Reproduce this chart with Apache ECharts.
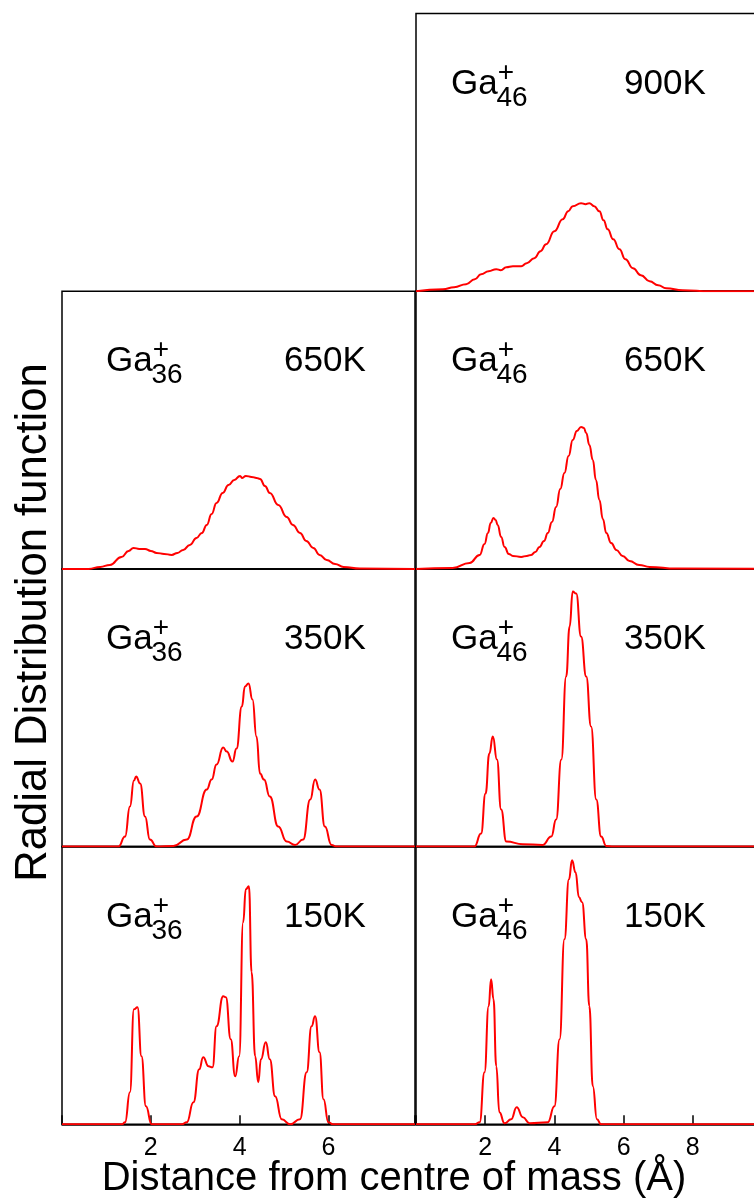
<!DOCTYPE html>
<html>
<head>
<meta charset="utf-8">
<script src="https://cdn.jsdelivr.net/npm/echarts@6/dist/echarts.min.js"></script>
<style>
  html, body { margin: 0; padding: 0; background: #fff; }
  #chart { width: 754px; height: 1198px; }
</style>
</head>
<body>
<div id="chart"></div>
<script>
// Radial distribution of atoms about the cluster centre of mass, [r (Å), g(r) arbitrary units]
const ga36_650K = [[0,0],[0.6,0],[0.86,0.02],[1.08,0.04],[1.34,0.12],[1.5,0.18],[1.61,0.21],[1.74,0.2],[1.87,0.2],[2.0,0.18],[2.13,0.16],[2.3,0.15],[2.47,0.14],[2.6,0.16],[2.73,0.19],[2.88,0.24],[3.03,0.31],[3.15,0.36],[3.26,0.44],[3.37,0.55],[3.48,0.66],[3.62,0.76],[3.75,0.84],[3.88,0.89],[4.01,0.93],[4.06,0.91],[4.14,0.93],[4.27,0.92],[4.38,0.91],[4.46,0.9],[4.57,0.83],[4.68,0.76],[4.87,0.64],[5.06,0.52],[5.2,0.44],[5.36,0.36],[5.5,0.28],[5.66,0.21],[5.8,0.14],[5.96,0.09],[6.15,0.05],[6.34,0.02],[6.71,0.003],[7.95,0]];
const ga36_350K = [[0,0],[1.27,0],[1.42,0.1],[1.53,0.4],[1.62,0.66],[1.67,0.7],[1.76,0.63],[1.87,0.3],[1.98,0.07],[2.13,0],[2.51,0.007],[2.81,0.07],[3.03,0.3],[3.26,0.57],[3.37,0.67],[3.48,0.82],[3.63,0.99],[3.71,0.95],[3.84,0.85],[3.93,0.98],[4.05,1.4],[4.12,1.6],[4.2,1.63],[4.29,1.47],[4.38,1.1],[4.46,0.73],[4.55,0.67],[4.68,0.5],[4.87,0.2],[5.06,0.05],[5.25,0.017],[5.43,0.07],[5.59,0.47],[5.7,0.67],[5.8,0.57],[5.92,0.2],[6.07,0.017],[6.18,0],[7.95,0]];
const ga36_150K = [[0,0],[1.35,0],[1.42,0.02],[1.53,0.32],[1.62,1.15],[1.7,1.17],[1.79,0.68],[1.89,0.18],[2.02,0],[2.7,0],[2.81,0.02],[2.96,0.22],[3.09,0.55],[3.18,0.67],[3.3,0.58],[3.39,0.57],[3.48,0.98],[3.63,1.28],[3.69,1.27],[3.8,0.85],[3.9,0.48],[3.99,0.68],[4.08,2.02],[4.14,2.35],[4.21,2.38],[4.27,1.52],[4.35,0.68],[4.42,0.42],[4.48,0.65],[4.59,0.82],[4.68,0.65],[4.8,0.28],[4.95,0.05],[5.14,0],[5.36,0.05],[5.51,0.52],[5.62,0.98],[5.7,1.08],[5.8,0.72],[5.89,0.25],[6.0,0.02],[6.1,0],[7.95,0]];
const ga46_900K = [[0,0],[0.78,0.02],[1.1,0.04],[1.45,0.07],[1.7,0.12],[1.88,0.17],[2.1,0.2],[2.32,0.22],[2.45,0.21],[2.61,0.24],[2.8,0.25],[3.04,0.25],[3.2,0.28],[3.42,0.33],[3.6,0.4],[3.76,0.47],[4.0,0.6],[4.24,0.72],[4.4,0.8],[4.53,0.85],[4.77,0.88],[4.9,0.87],[5.01,0.88],[5.15,0.85],[5.3,0.8],[5.42,0.71],[5.54,0.62],[5.7,0.52],[5.88,0.42],[6.05,0.32],[6.27,0.23],[6.5,0.16],[6.75,0.1],[7.0,0.06],[7.23,0.03],[7.71,0.01],[8.5,0],[10,0]];
const ga46_650K = [[0,0],[1.06,0.01],[1.55,0.06],[1.84,0.14],[1.98,0.25],[2.08,0.36],[2.16,0.46],[2.24,0.51],[2.3,0.49],[2.36,0.44],[2.46,0.32],[2.56,0.22],[2.68,0.15],[2.8,0.13],[3.04,0.12],[3.2,0.13],[3.33,0.14],[3.45,0.17],[3.57,0.22],[3.7,0.28],[3.81,0.36],[3.93,0.47],[4.05,0.62],[4.17,0.8],[4.29,0.96],[4.41,1.13],[4.53,1.29],[4.65,1.38],[4.77,1.42],[4.85,1.41],[4.92,1.36],[5.01,1.24],[5.11,1.09],[5.2,0.89],[5.3,0.69],[5.4,0.5],[5.5,0.36],[5.64,0.26],[5.79,0.19],[5.97,0.13],[6.17,0.08],[6.45,0.04],[6.75,0.02],[7.52,0.003],[10,0]];
const ga46_350K = [[0,0],[1.69,0],[1.88,0.13],[2.01,0.53],[2.12,0.93],[2.22,1.1],[2.34,0.87],[2.46,0.37],[2.61,0.05],[3.09,0.024],[3.66,0.017],[3.91,0.1],[4.05,0.27],[4.2,0.87],[4.34,1.7],[4.44,2.2],[4.53,2.55],[4.63,2.53],[4.77,2.1],[4.92,1.7],[5.06,1.2],[5.21,0.47],[5.35,0.1],[5.5,0.007],[5.7,0],[10,0]];
const ga46_150K = [[0,0],[1.7,0],[1.84,0.02],[1.98,0.52],[2.1,1.18],[2.17,1.45],[2.24,1.25],[2.32,0.58],[2.41,0.12],[2.56,0.01],[2.75,0.05],[2.91,0.17],[3.09,0.07],[3.28,0.01],[3.81,0.02],[4.0,0.18],[4.15,0.85],[4.29,1.85],[4.42,2.45],[4.51,2.64],[4.61,2.52],[4.71,2.27],[4.8,2.22],[4.92,1.85],[5.01,1.18],[5.11,0.38],[5.23,0.05],[5.35,0],[10,0]];

// tick labels of the two distance axes
const ticksGa36 = [2, 4, 6];
const ticksGa46 = [2, 4, 6, 8];

// panel arrangement: column 0 = Ga36+, column 1 = Ga46+
const panels = [
  { col: 1, row: 0, data: ga46_900K, size: '46', temp: '900K' },
  { col: 0, row: 1, data: ga36_650K, size: '36', temp: '650K' },
  { col: 1, row: 1, data: ga46_650K, size: '46', temp: '650K' },
  { col: 0, row: 2, data: ga36_350K, size: '36', temp: '350K' },
  { col: 1, row: 2, data: ga46_350K, size: '46', temp: '350K' },
  { col: 0, row: 3, data: ga36_150K, size: '36', temp: '150K' },
  { col: 1, row: 3, data: ga46_150K, size: '46', temp: '150K' }
];

const FONT = 'Liberation Sans, Arial, Helvetica, sans-serif';
const TOP0 = 13.5, PANEL_H = 277.7, YMAX = 2.777;
const cols = [
  { left: 62, width: 353, max: 7.95, ticks: ticksGa36, labelDx: 44, tempDx: 222 },
  { left: 416, width: 346, max: 10, ticks: ticksGa46, labelDx: 35, tempDx: 208 }
];

const grid = [], xAxis = [], yAxis = [], series = [], graphic = [];

panels.forEach((p, i) => {
  const c = cols[p.col];
  const top = TOP0 + p.row * PANEL_H;
  const bottomRow = p.row === 3;
  grid.push({
    left: c.left, top: top, width: c.width, height: PANEL_H,
    outerBoundsMode: 'none', containLabel: false,
    show: true, borderColor: '#000', borderWidth: 1.5, backgroundColor: 'transparent'
  });
  xAxis.push({
    type: 'value', gridIndex: i, min: 0, max: c.max, interval: 2,
    axisLine: { show: true, onZero: false, lineStyle: { color: '#000', width: 1.5 } },
    axisTick: { show: bottomRow, inside: true, length: 9,
                lineStyle: { color: '#000', width: 1.5 } },
    axisLabel: {
      show: bottomRow, margin: 11, hideOverlap: false,
      color: '#000', fontSize: 25, fontFamily: FONT,
      formatter: v => (c.ticks.indexOf(v) >= 0 ? String(v) : '')
    },
    splitLine: { show: false }
  });
  yAxis.push({ type: 'value', gridIndex: i, min: 0, max: YMAX, show: false });
  series.push({
    type: 'line', xAxisIndex: i, yAxisIndex: i, data: p.data,
    showSymbol: false, smooth: 0.5, smoothMonotone: 'x',
    lineStyle: { color: '#ff0000', width: 2 }, z: 5
  });

  // panel caption: Ga with charge and cluster size, plus temperature
  const lx = c.left + c.labelDx;
  graphic.push({
    type: 'text', x: lx, y: top + 70.5, z: 10,
    style: { text: 'Ga', font: '35px ' + FONT, fill: '#000', align: 'left', verticalAlign: 'middle' }
  });
  graphic.push({
    type: 'text', x: lx + 45.5, y: top + 84.5, z: 10,
    style: { text: p.size, font: '28px ' + FONT, fill: '#000', align: 'left', verticalAlign: 'middle' }
  });
  graphic.push({
    type: 'text', x: lx + 55, y: top + 59.5, z: 10,
    style: { text: '+', font: '28px ' + FONT, fill: '#000', align: 'center', verticalAlign: 'middle' }
  });
  graphic.push({
    type: 'text', x: c.left + c.tempDx, y: top + 70.5, z: 10,
    style: { text: p.temp, font: '35px ' + FONT, fill: '#000', align: 'left', verticalAlign: 'middle' }
  });
});

// axis titles
graphic.push({
  type: 'text', x: 394, y: 1179, z: 10,
  style: { text: 'Distance from centre of mass (Å)', font: '40px ' + FONT, fill: '#000',
           align: 'center', verticalAlign: 'middle' }
});
graphic.push({
  type: 'text', x: 33.5, y: 622.5, rotation: Math.PI / 2, z: 10,
  style: { text: 'Radial Distribution function', font: '43.6px ' + FONT, fill: '#000',
           align: 'center', verticalAlign: 'middle' }
});

const chart = echarts.init(document.getElementById('chart'), null, { renderer: 'canvas' });
chart.setOption({
  animation: false,
  backgroundColor: '#fff',
  grid, xAxis, yAxis, series, graphic
});
</script>
</body>
</html>
